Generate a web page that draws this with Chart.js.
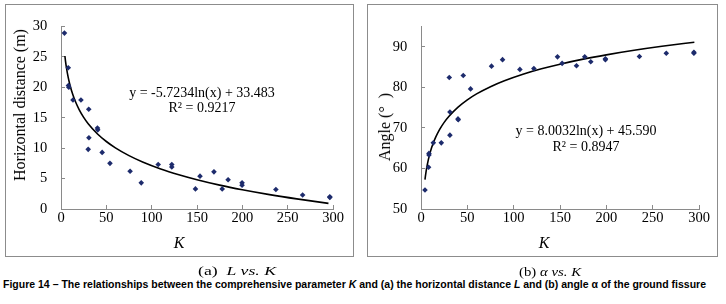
<!DOCTYPE html>
<html><head><meta charset="utf-8">
<script src="https://cdn.jsdelivr.net/npm/chart.js@4.4.1/dist/chart.umd.min.js"></script>
<style>
html,body{margin:0;padding:0;background:#fff;}
body{width:726px;height:304px;position:relative;overflow:hidden;font-family:"Liberation Serif","Times New Roman",serif;color:#000;}
.box{position:absolute;border:1px solid #8c8c8c;box-sizing:border-box;}
canvas{position:absolute;}
.t{position:absolute;white-space:nowrap;line-height:1;}
.c{transform:translate(-50%,-50%);}
.rot{transform:translate(-50%,-50%) rotate(-90deg);}
.fit{transform-origin:0 50%;}
</style></head>
<body>
<div class="box" style="left:5px;top:4px;width:349px;height:253px"></div>
<div class="box" style="left:367px;top:4px;width:351px;height:253px"></div>
<canvas id="cL" width="360" height="250" style="left:0;top:0"></canvas>
<canvas id="cA" width="366" height="250" style="left:360px;top:0"></canvas>

<div class="t rot" style="left:20px;top:105px;font-size:16px">Horizontal distance (m)</div>
<div class="t c" style="left:179px;top:243px;font-size:16px;font-style:italic">K</div>
<div class="t c" style="left:202px;top:93px;font-size:14px">y = -5.7234ln(x) + 33.483</div>
<div class="t c" style="left:202px;top:108px;font-size:14px">R² = 0.9217</div>

<div class="t rot" style="left:385px;top:127px;font-size:16px">Angle (°&nbsp;&nbsp;)</div>
<div class="t c" style="left:544px;top:243px;font-size:16px;font-style:italic">K</div>
<div class="t c" style="left:586px;top:131px;font-size:14px">y = 8.0032ln(x) + 45.590</div>
<div class="t c" style="left:586px;top:147px;font-size:14px">R² = 0.8947</div>

<div class="t fit" data-w="78" data-cy="270" style="left:198px;font-size:13px">(a)&nbsp;&nbsp;<i>L vs. K</i></div>
<div class="t fit" data-w="62" data-cy="271" style="left:519px;font-size:13px">(b) <i>α vs. K</i></div>
<div class="t fit" data-w="703" data-cy="285" style="left:3px;font-size:10px;font-weight:bold;font-family:'Liberation Sans',Arial,sans-serif">Figure 14 – The relationships between the comprehensive parameter <i>K</i> and (a) the horizontal distance <i>L</i> and (b) angle α of the ground fissure</div>

<script>
// ---- data ----
const xTicks = [0, 50, 100, 150, 200, 250, 300];
const yTicksL = [0, 5, 10, 15, 20, 25, 30];
const yTicksA = [50, 60, 70, 80, 90];

const kL = [3.8, 8.0, 8.2, 8.6, 13.2, 22.0, 30.6, 30.0, 30.8, 40.2, 40.5, 45.4, 54.0, 76.2, 88.5, 107.2, 122.2, 122.2, 148.3, 153.3, 168.7, 177.8, 184.3, 199.7, 199.7, 237.0, 266.5, 296.5, 296.5];
const distL = [28.9, 23.2, 20.3, 20.0, 17.9, 17.9, 16.4, 9.8, 11.7, 13.3, 13.0, 9.3, 7.5, 6.2, 4.3, 7.3, 7.3, 6.9, 3.3, 5.4, 6.1, 3.3, 4.8, 4.3, 3.9, 3.2, 2.3, 2.0, 1.9];

const kA = [4.3, 8.2, 8.6, 8.6, 13.3, 21.9, 30.5, 31.2, 31.2, 39.9, 40.2, 45.6, 53.5, 76.1, 88.0, 106.7, 121.8, 147.3, 152.3, 167.8, 176.7, 183.2, 199.0, 199.0, 235.7, 264.7, 294.5, 294.5];
const angleA = [54.7, 60.3, 63.7, 63.3, 66.3, 66.3, 82.4, 73.9, 68.2, 72.2, 72.0, 82.9, 79.6, 85.2, 86.8, 84.4, 84.6, 87.5, 85.9, 85.3, 87.5, 86.3, 86.8, 87.0, 87.6, 88.4, 88.6, 88.4];

// trend-line samples
const trendK = [4.3, 5, 6, 8, 10, 13, 16, 20, 25, 30, 40, 50, 60, 75, 90, 110, 130, 150, 175, 200, 230, 260, 295];
const trendL = [25.14, 24.27, 23.23, 21.58, 20.30, 18.80, 17.61, 16.34, 15.06, 14.02, 12.37, 11.09, 10.05, 8.77, 7.73, 6.58, 5.63, 4.81, 3.92, 3.16, 2.36, 1.66, 0.93];
const trendA = [57.26, 58.47, 59.93, 62.23, 64.02, 66.12, 67.78, 69.57, 71.35, 72.81, 75.11, 76.90, 78.36, 80.14, 81.60, 83.21, 84.55, 85.69, 86.93, 87.99, 89.11, 90.09, 91.10];

const pts = (xs, ys) => xs.map((x, i) => ({x: x, y: ys[i]}));
const AXIS = '#8a8a8a';
const FONT = {family: "'Liberation Serif','Times New Roman',serif", size: 14.5};

function makeChart(id, xs, ys, tk, ty, yMin, yMax, yTicks, padRight, padTop) {
  return new Chart(document.getElementById(id), {
    type: 'scatter',
    data: {
      datasets: [
        {data: pts(xs, ys), pointStyle: 'rectRot', pointRadius: 2.8, pointBackgroundColor: '#1d2b6c', pointBorderWidth: 0, order: 1},
        {data: pts(tk, ty), showLine: true, borderColor: '#000', borderWidth: 1.6, pointRadius: 0, tension: 0.4, cubicInterpolationMode: 'monotone', fill: false, order: 2}
      ]
    },
    options: {
      responsive: false, animation: false, devicePixelRatio: 1,
      layout: {padding: {left: 0, right: padRight, top: padTop, bottom: 0}},
      plugins: {legend: {display: false}, tooltip: {enabled: false}},
      scales: {
        x: {
          type: 'linear', min: 0, max: 300,
          afterBuildTicks: s => { s.ticks = xTicks.map(v => ({value: v})); },
          afterFit: s => { s.height = 41; },
          grid: {display: true, drawOnChartArea: false, drawTicks: true, tickLength: -4, color: AXIS},
          border: {display: true, color: AXIS, width: 1},
          ticks: {color: '#000', font: FONT, padding: 4.3, maxRotation: 0, autoSkip: false}
        },
        y: {
          type: 'linear', min: yMin, max: yMax,
          afterBuildTicks: s => { s.ticks = yTicks.map(v => ({value: v})); },
          afterFit: s => { s.width = 61; },
          grid: {display: true, drawOnChartArea: false, drawTicks: true, tickLength: -4, color: AXIS},
          border: {display: true, color: AXIS, width: 1},
          ticks: {color: '#000', font: FONT, padding: 17.7, autoSkip: false}
        }
      }
    }
  });
}

makeChart('cL', kL, distL, trendK, trendL, 0, 30, yTicksL, 27, 23);
makeChart('cA', kA, angleA, trendK, trendA, 50, 95, yTicksA, 27, 23);

document.querySelectorAll('.fit').forEach(el => {
  const r = el.getBoundingClientRect();
  el.style.top = (+el.dataset.cy - r.height / 2) + 'px';
  el.style.transform = 'scaleX(' + (+el.dataset.w / r.width) + ')';
});
</script>
</body></html>
